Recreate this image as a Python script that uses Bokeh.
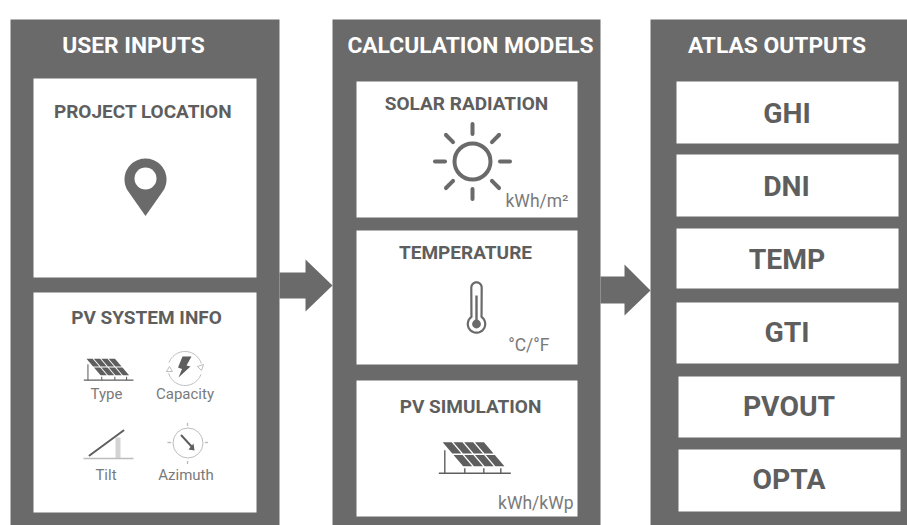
import numpy as np
from bokeh.plotting import figure
from bokeh.models import Range1d
from bokeh.core.properties import value
from bokeh.embed import file_html
from bokeh.resources import INLINE

# ---- content ----
headers = ["USER INPUTS", "CALCULATION MODELS", "ATLAS OUTPUTS"]
input_titles = ["PROJECT LOCATION", "PV SYSTEM INFO"]
model_titles = ["SOLAR RADIATION", "TEMPERATURE", "PV SIMULATION"]
model_units = ["kWh/m²", "°C/°F", "kWh/kWp"]
output_labels = ["GHI", "DNI", "TEMP", "GTI", "PVOUT", "OPTA"]
system_labels = ["Type", "Capacity", "Tilt", "Azimuth"]

PANEL = "#6a6a6a"
TXT = "#5e5e5e"
LIGHT = "#bdbdbd"
UNIT = "#7a7a7a"
FONT = value("Roboto")

p = figure(width=907, height=525, x_range=Range1d(0, 907), y_range=Range1d(525, 0),
           output_backend="svg", toolbar_location=None, min_border=0)
p.axis.visible = False
p.grid.visible = False
p.outline_line_color = None
p.background_fill_color = "white"
p.border_fill_color = "white"


def rect(x0, y0, x1, y1, color):
    p.quad(left=[x0], right=[x1], top=[y0], bottom=[y1], fill_color=color, line_color=None)


def poly(pts, color):
    xs, ys = zip(*pts)
    p.patch(list(xs), list(ys), fill_color=color, line_color=None)


def line(pts, color, w, cap="round"):
    xs, ys = zip(*pts)
    p.line(list(xs), list(ys), line_color=color, line_width=w, line_cap=cap, line_join="round")


def label(x, y, s, size, color=TXT, style="bold", align="center"):
    p.text([x], [y], text=[s], text_font=FONT, text_font_size=f"{size}px", text_color=color,
           text_font_style=style, text_align=align, text_baseline="middle")


def solar(ox, oy, k):
    """Tilted array on a ground line; local units are those of the large icon."""
    def pt(a, b):
        # a across (0-1), b down the slope (0-1)
        return (ox + k * (3 + 43 * a + 20.5 * b), oy + k * (0 + 24 * b))
    for r0, r1 in ((0.0, 0.47), (0.53, 1.0)):
        for c in range(4):
            a0, a1 = c / 4 + 0.02, (c + 1) / 4 - 0.02
            poly([pt(a0, r0), pt(a1, r0), pt(a1, r1), pt(a0, r1)], TXT)
    base = oy + k * 31
    line([(ox, base), (ox + k * 72, base)], TXT, 1.6 * max(k, 0.75), "butt")
    for px, top in ((6, 8), (26, 26), (45, 26), (62, 26)):
        line([(ox + k * px, oy + k * top), (ox + k * px, base)], TXT, 1.4 * max(k, 0.75), "butt")


# ---- panels ----
for x0, x1 in ((10, 279), (332, 600), (650, 907)):
    rect(x0, 19, x1, 525, PANEL)
for x, s in zip((133, 470, 776.5), headers):
    label(x, 44.5, s, 22.8, "white")

# arrows
poly([(279, 272), (305, 272), (305, 259), (332, 285), (305, 311), (305, 298), (279, 298)], PANEL)
poly([(600, 276), (624, 276), (624, 264), (650, 290), (624, 315), (624, 303), (600, 303)], PANEL)

# ---- user inputs ----
for (y0, y1), s, (tx, ty) in zip(((78, 277), (292, 512)), input_titles, ((142.5, 110.5), (146, 316.5))):
    rect(33, y0, 256, y1, "white")
    label(tx, ty, s, 19)

# pin
cx, cy, r, tip = 145, 179, 21, 215.5
ang = np.arccos(r / (tip - cy))
t = np.linspace(np.pi / 2 + ang, 2 * np.pi + np.pi / 2 - ang, 60)
poly(list(zip(cx + r * np.cos(t), cy + r * np.sin(t))) + [(cx, tip)], PANEL)
p.circle([cx], [178], radius=11, fill_color="white", line_color=None)

# type icon + capacity icon
solar(83.3, 358.3, 0.69)
t = np.linspace(-1.2, 1.25, 30)
line(list(zip(184.5 + 17 * np.sin(t), 368 - 17 * np.cos(t))), LIGHT, 1)
t = np.linspace(1.95, 4.4, 30)
line(list(zip(184.5 + 17 * np.sin(t), 368 - 17 * np.cos(t))), LIGHT, 1)
poly([(182, 356), (191, 356), (186, 365), (190, 366), (178, 377), (181.5, 368.5), (177.5, 367)], TXT)
line([(166, 371), (169, 366), (172, 371), (166, 371)], LIGHT, 1)
line([(197, 366), (203, 364), (201, 370), (197, 366)], LIGHT, 1)

# tilt icon
rect(115, 437, 120, 458, "#d4d4d4")
line([(83, 458), (133, 458)], LIGHT, 1.6, "butt")
line([(89, 455), (123, 430)], TXT, 2)

# azimuth icon
p.circle([187.5], [442.5], radius=15, fill_color=None, line_color=LIGHT, line_width=1)
line([(187, 423), (187, 425)], LIGHT, 1.4)
line([(187, 461), (187, 463)], LIGHT, 1.4)
line([(167.5, 442), (170, 442)], LIGHT, 1.4)
line([(205, 442), (207, 442)], LIGHT, 1.4)
line([(181, 435), (192, 447)], TXT, 2)
poly([(194, 450), (193, 443), (188, 449)], TXT)

for (x, y), s in zip(((106, 393), (184.5, 393), (105.5, 474), (185.5, 474)), system_labels):
    label(x, y, s, 15, UNIT, "normal")

# ---- calculation models ----
model_boxes = ((81, 217), (230, 364), (380, 516))
title_pos = ((466, 102.5), (465, 251.5), (470, 405.5))
unit_pos = ((568, 200), (549, 344), (573, 502))
for (y0, y1), s, (tx, ty), u, (ux, uy) in zip(model_boxes, model_titles, title_pos, model_units, unit_pos):
    rect(356, y0, 577, y1, "white")
    label(tx, ty, s, 19)
    label(ux, uy, u, 17.5, UNIT, "normal", "right")

# sun
sx, sy = 472, 161
p.circle([sx], [sy], radius=18, fill_color=None, line_color=PANEL, line_width=4)
for a in np.arange(8) * np.pi / 4:
    line([(sx + 27.5 * np.cos(a), sy + 27.5 * np.sin(a)), (sx + 37.5 * np.cos(a), sy + 37.5 * np.sin(a))], PANEL, 4)

# thermometer
bx, by = 476, 323.5
t = np.linspace(-np.pi * 0.5 + 0.62, np.pi * 1.5 - 0.62, 40)
bulb = list(zip(bx + 8.7 * np.cos(t), by + 8.7 * np.sin(t)))
cap = np.linspace(np.pi, 2 * np.pi, 14)
top = list(zip(bx + 5.2 * np.cos(cap), 287 + 5.2 * np.sin(cap)))
line(top + bulb + top[:1], PANEL, 2.2)
line([(bx, 295), (bx, by)], PANEL, 2.4, "butt")
p.circle([bx], [by], radius=4.4, fill_color=PANEL, line_color=None)

# panel
solar(438.3, 441.7, 1.0)

# ---- outputs ----
out_boxes = ((676, 81, 898, 143), (676, 154, 898, 216), (676, 228, 898, 288),
             (676, 302, 898, 363), (678, 376, 900, 437), (678, 449, 900, 511))
out_text = ((786.5, 112.5), (786, 185.5), (786.5, 258.5), (786.5, 331.5), (788.5, 405.5), (788.5, 479))
for (x0, y0, x1, y1), (tx, ty), s in zip(out_boxes, out_text, output_labels):
    rect(x0, y0, x1, y1, "white")
    label(tx, ty, s, 28.3)

open("out.html", "w").write(file_html(p, INLINE))
